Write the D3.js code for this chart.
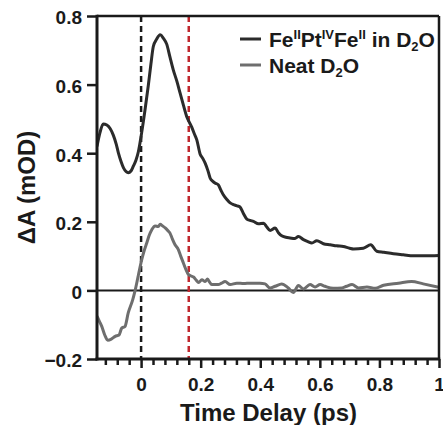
<!DOCTYPE html>
<html>
<head>
<meta charset="utf-8">
<script src="https://cdn.jsdelivr.net/npm/d3@7"></script>
<style>
  html, body { margin: 0; padding: 0; background: #fff; }
  svg { display: block; font-family: "Liberation Sans", Arial, sans-serif; font-weight: bold; }
</style>
</head>
<body>
<svg id="chart" width="443" height="425"></svg>
<script>
// Transient absorption kinetics: FeII-PtIV-FeII in D2O vs. neat D2O
const feTime = [-0.148, -0.138, -0.127, -0.115, -0.104, -0.093, -0.083, -0.076, -0.067, -0.059,
  -0.050, -0.043, -0.034, -0.026, -0.017, -0.009, 0.002, 0.013, 0.024, 0.033,
  0.041, 0.052, 0.064, 0.075, 0.086, 0.097, 0.108, 0.120, 0.131, 0.142,
  0.153, 0.162, 0.170, 0.178, 0.187, 0.198, 0.207, 0.215, 0.224, 0.232,
  0.241, 0.248, 0.259, 0.268, 0.276, 0.288, 0.299, 0.310, 0.320, 0.332,
  0.343, 0.355, 0.366, 0.377, 0.394, 0.411, 0.422, 0.433, 0.450, 0.461,
  0.472, 0.486, 0.500, 0.515, 0.528, 0.545, 0.560, 0.573, 0.590, 0.612,
  0.635, 0.657, 0.679, 0.700, 0.713, 0.746, 0.771, 0.791, 0.815, 0.847,
  0.880, 0.914, 0.950, 1.000];
const feSignal = [0.420, 0.460, 0.485, 0.482, 0.472, 0.452, 0.425, 0.400, 0.375, 0.357,
  0.346, 0.343, 0.348, 0.362, 0.380, 0.405, 0.460, 0.525, 0.596, 0.660,
  0.711, 0.732, 0.745, 0.735, 0.718, 0.680, 0.643, 0.610, 0.575, 0.540,
  0.507, 0.490, 0.476, 0.458, 0.439, 0.398, 0.385, 0.371, 0.350, 0.327,
  0.318, 0.313, 0.308, 0.292, 0.279, 0.265, 0.255, 0.250, 0.247, 0.243,
  0.225, 0.208, 0.204, 0.201, 0.194, 0.196, 0.185, 0.175, 0.182, 0.168,
  0.159, 0.155, 0.153, 0.151, 0.157, 0.148, 0.142, 0.138, 0.145, 0.136,
  0.133, 0.130, 0.128, 0.123, 0.121, 0.123, 0.133, 0.114, 0.111, 0.107,
  0.104, 0.101, 0.101, 0.102];

const d2oTime = [-0.148, -0.140, -0.132, -0.122, -0.112, -0.100, -0.087, -0.074, -0.065, -0.054,
  -0.043, -0.028, -0.020, -0.009, 0.002, 0.010, 0.019, 0.027, 0.036, 0.047,
  0.058, 0.064, 0.072, 0.081, 0.089, 0.097, 0.105, 0.114, 0.125, 0.133,
  0.142, 0.150, 0.159, 0.168, 0.176, 0.185, 0.193, 0.204, 0.215, 0.223,
  0.230, 0.237, 0.259, 0.270, 0.282, 0.299, 0.321, 0.345, 0.366, 0.399,
  0.416, 0.433, 0.450, 0.472, 0.494, 0.511, 0.528, 0.545, 0.567, 0.584,
  0.601, 0.617, 0.645, 0.674, 0.690, 0.708, 0.730, 0.758, 0.786, 0.814,
  0.864, 0.908, 0.947, 1.000];
const d2oSignal = [-0.075, -0.090, -0.105, -0.130, -0.145, -0.142, -0.134, -0.130, -0.110, -0.105,
  -0.065, -0.027, 0.000, 0.045, 0.089, 0.115, 0.138, 0.160, 0.177, 0.188,
  0.186, 0.193, 0.188, 0.182, 0.175, 0.167, 0.150, 0.133, 0.119, 0.100,
  0.080, 0.062, 0.046, 0.042, 0.039, 0.030, 0.023, 0.031, 0.026, 0.033,
  0.024, 0.017, 0.017, 0.021, 0.026, 0.017, 0.021, 0.020, 0.021, 0.021,
  0.019, 0.007, 0.012, 0.019, 0.007, -0.006, 0.014, 0.004, 0.017, 0.010,
  0.017, 0.012, 0.006, 0.007, 0.012, 0.017, 0.007, 0.010, 0.006, 0.015,
  0.021, 0.026, 0.019, 0.009];

const xTicks = [0, 0.2, 0.4, 0.6, 0.8, 1];
const xTickLabels = ["0", "0.2", "0.4", "0.6", "0.8", "1"];
const xMinorTicks = [-0.12, -0.08, -0.04, 0.04, 0.08, 0.12, 0.16, 0.24, 0.28, 0.32, 0.36,
  0.44, 0.48, 0.52, 0.56, 0.64, 0.68, 0.72, 0.76, 0.84, 0.88, 0.92, 0.96];
const yTicks = [-0.2, 0, 0.2, 0.4, 0.6, 0.8];
const yTickLabels = ["\u22120.2", "0", "0.2", "0.4", "0.6", "0.8"];
const markerTimes = [0, 0.16];

const plotLeft = 97, plotRight = 439, plotTop = 16, plotBottom = 359;
const svg = d3.select("#chart");

const x = d3.scaleLinear().domain([-0.148, 1.0]).range([plotLeft, plotRight]);
const y = d3.scaleLinear().domain([-0.2, 0.8]).range([plotBottom, plotTop]);

svg.append("defs").append("clipPath").attr("id", "plotClip")
  .append("rect").attr("x", plotLeft).attr("y", plotTop)
  .attr("width", plotRight - plotLeft).attr("height", plotBottom - plotTop);

const plot = svg.append("g").attr("clip-path", "url(#plotClip)");

// zero baseline
plot.append("line")
  .attr("x1", plotLeft).attr("x2", plotRight)
  .attr("y1", y(0)).attr("y2", y(0))
  .attr("stroke", "#1a1a1a").attr("stroke-width", 2);

// time-zero and 0.16 ps markers
plot.selectAll(".marker").data(markerTimes).join("line")
  .attr("class", "marker")
  .attr("x1", d => x(d)).attr("x2", d => x(d))
  .attr("y1", plotTop).attr("y2", plotBottom)
  .attr("stroke", (d, i) => i === 0 ? "#1a1a1a" : "#c1272d")
  .attr("stroke-width", 2.5)
  .attr("stroke-dasharray", "6,4");

const line = d3.line().x(d => x(d[0])).y(d => y(d[1])).curve(d3.curveMonotoneX);

plot.append("path")
  .datum(d2oTime.map((t, i) => [t, d2oSignal[i]]))
  .attr("d", line).attr("fill", "none")
  .attr("stroke", "#6e6e6e").attr("stroke-width", 3).attr("stroke-linejoin", "round");

plot.append("path")
  .datum(feTime.map((t, i) => [t, feSignal[i]]))
  .attr("d", line).attr("fill", "none")
  .attr("stroke", "#2b2b2b").attr("stroke-width", 3).attr("stroke-linejoin", "round");

// frame
svg.append("line").attr("x1", plotLeft).attr("x2", plotRight).attr("y1", plotTop).attr("y2", plotTop)
  .attr("stroke", "#1a1a1a").attr("stroke-width", 2.5);
svg.append("line").attr("x1", plotRight).attr("x2", plotRight).attr("y1", plotTop).attr("y2", plotBottom)
  .attr("stroke", "#1a1a1a").attr("stroke-width", 2.5);

// x axis
const xAxis = d3.axisBottom(x)
  .tickValues(xTicks)
  .tickFormat((d, i) => xTickLabels[i])
  .tickSize(9).tickPadding(10);
const gx = svg.append("g").attr("transform", `translate(0,${plotBottom})`).call(xAxis);
gx.select(".domain").attr("d", `M${plotLeft - 1.5},0H${plotRight + 1.2}`)
  .attr("stroke", "#1a1a1a").attr("stroke-width", 3);
gx.selectAll(".tick line").attr("stroke", "#1a1a1a").attr("stroke-width", 2.5);
gx.selectAll(".tick text").attr("font-size", 19).attr("font-family", "Liberation Sans, Arial, sans-serif")
  .attr("font-weight", "bold").attr("fill", "#1a1a1a");

const gxMinor = svg.append("g").attr("transform", `translate(0,${plotBottom})`)
  .call(d3.axisBottom(x).tickValues(xMinorTicks).tickSize(6).tickFormat(""));
gxMinor.select(".domain").remove();
gxMinor.selectAll(".tick line").attr("stroke", "#1a1a1a").attr("stroke-width", 2.5);

// y axis
const yAxis = d3.axisLeft(y)
  .tickValues(yTicks)
  .tickFormat((d, i) => yTickLabels[i])
  .tickSize(10).tickPadding(5);
const gy = svg.append("g").attr("transform", `translate(${plotLeft},0)`).call(yAxis);
gy.select(".domain").attr("d", `M0,${plotBottom + 1.5}V${plotTop - 1.2}`)
  .attr("stroke", "#1a1a1a").attr("stroke-width", 3);
gy.selectAll(".tick line").attr("stroke", "#1a1a1a").attr("stroke-width", 2.5);
gy.selectAll(".tick text").attr("font-size", 19).attr("font-family", "Liberation Sans, Arial, sans-serif")
  .attr("font-weight", "bold").attr("fill", "#1a1a1a").attr("dy", "0.42em");

// axis titles
svg.append("text")
  .attr("x", (plotLeft + plotRight) / 2 + 0.5).attr("y", 421)
  .attr("text-anchor", "middle").attr("font-size", 24).attr("fill", "#1a1a1a")
  .text("Time Delay (ps)");

svg.append("text")
  .attr("transform", `translate(35,${(plotTop + plotBottom) / 2}) rotate(-90)`)
  .attr("text-anchor", "middle").attr("font-size", 24).attr("fill", "#1a1a1a")
  .text("\u0394A (mOD)");

// legend
const legend = svg.append("g");
const legendRows = [
  { color: "#2b2b2b", y: 39 },
  { color: "#6e6e6e", y: 65 }
];
legend.selectAll("line").data(legendRows).join("line")
  .attr("x1", 240).attr("x2", 261)
  .attr("y1", d => d.y).attr("y2", d => d.y)
  .attr("stroke", d => d.color).attr("stroke-width", 3);

const t1 = legend.append("text").attr("x", 269).attr("y", 46.5).attr("font-size", 21).attr("fill", "#1a1a1a");
t1.append("tspan").text("Fe");
t1.append("tspan").attr("font-size", 13).attr("dy", -8).text("II");
t1.append("tspan").attr("dy", 8).text("Pt");
t1.append("tspan").attr("font-size", 13).attr("dy", -8).text("IV");
t1.append("tspan").attr("dy", 8).text("Fe");
t1.append("tspan").attr("font-size", 13).attr("dy", -8).text("II");
t1.append("tspan").attr("dy", 8).text(" in D");
t1.append("tspan").attr("font-size", 13).attr("dy", 4).text("2");
t1.append("tspan").attr("dy", -4).text("O");

const t2 = legend.append("text").attr("x", 269).attr("y", 72.5).attr("font-size", 21).attr("fill", "#1a1a1a");
t2.append("tspan").text("Neat D");
t2.append("tspan").attr("font-size", 13).attr("dy", 4).text("2");
t2.append("tspan").attr("dy", -4).text("O");
</script>
</body>
</html>
